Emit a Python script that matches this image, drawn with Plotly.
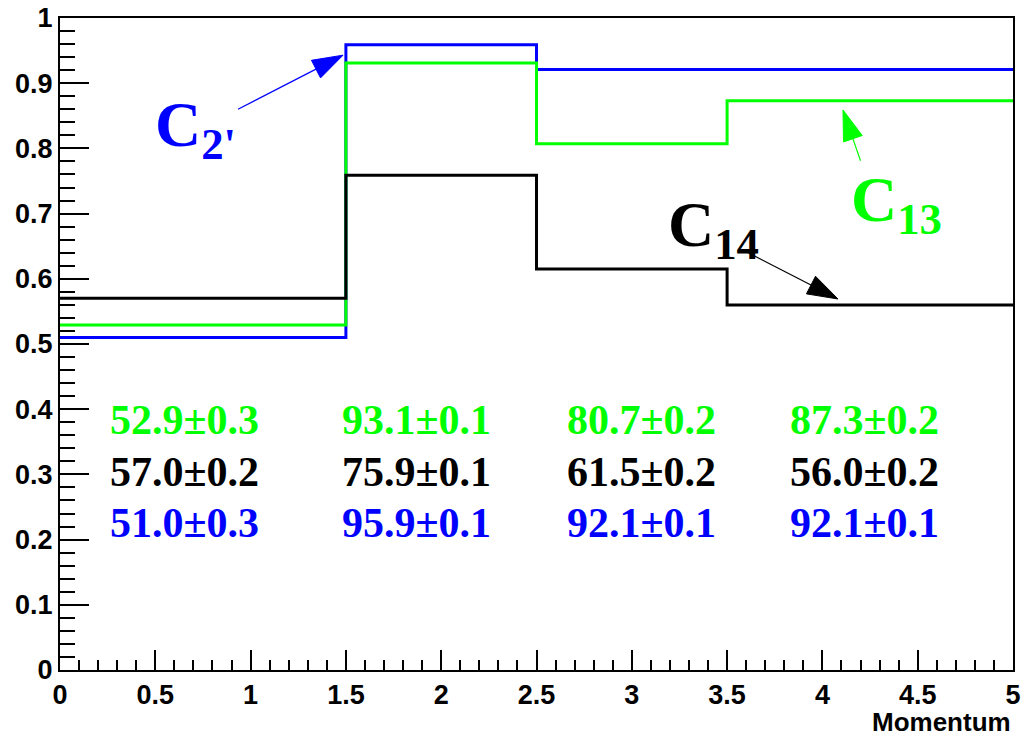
import plotly.graph_objects as go

# ---- data ----
bin_edges = [0.0, 1.5, 2.5, 3.5, 5.0]
c2_vals = [0.510, 0.959, 0.921, 0.921]   # blue
c13_vals = [0.529, 0.931, 0.807, 0.873]  # green
c14_vals = [0.570, 0.759, 0.615, 0.560]  # black

row_green = ["52.9±0.3", "93.1±0.1", "80.7±0.2", "87.3±0.2"]
row_black = ["57.0±0.2", "75.9±0.1", "61.5±0.2", "56.0±0.2"]
row_blue = ["51.0±0.3", "95.9±0.1", "92.1±0.1", "92.1±0.1"]
text_x = [0.25, 1.47, 2.65, 3.82]
text_y = {"green": 0.383, "black": 0.304, "blue": 0.225}

BLUE = "#0000ff"
GREEN = "#00ff00"
BLACK = "#000000"

fig = go.Figure()

def step(vals):
    return bin_edges, list(vals) + [vals[-1]]

for vals, col in [(c2_vals, BLUE), (c13_vals, GREEN), (c14_vals, BLACK)]:
    xs, ys = step(vals)
    fig.add_trace(go.Scatter(x=xs, y=ys, mode="lines", line=dict(shape="hv", color=col, width=3),
                             showlegend=False, hoverinfo="skip"))

serif = "Liberation Serif"
for row, col, key in [(row_green, GREEN, "green"), (row_black, BLACK, "black"), (row_blue, BLUE, "blue")]:
    for xv, t in zip(text_x, row):
        fig.add_annotation(x=xv, y=text_y[key], text=t, showarrow=False, xanchor="left", yanchor="middle",
                           font=dict(family=serif, size=42, color=col, weight="bold"))

# labels
labels = [
    ("C<sub>2'</sub>", 0.49, 0.83, BLUE),
    ("C<sub>13</sub>", 4.14, 0.715, GREEN),
    ("C<sub>14</sub>", 3.18, 0.677, BLACK),
]
for t, xv, yv, col in labels:
    fig.add_annotation(x=xv, y=yv, text=t, showarrow=False, xanchor="left", yanchor="middle",
                       font=dict(family=serif, size=64, color=col, weight="bold"))

# arrows (tail -> head)
arrows = [
    ((0.934, 0.860), (1.485, 0.943), BLUE),
    ((4.20, 0.781), (4.108, 0.859), GREEN),
    ((3.604, 0.641), (4.082, 0.569), BLACK),
]
for (tx, ty), (hx, hy), col in arrows:
    fig.add_trace(go.Scatter(x=[tx, hx], y=[ty, hy], mode="lines+markers",
                             line=dict(color=col, width=1.2),
                             marker=dict(symbol="arrow", size=[0, 32], color=col, opacity=1,
                                         angleref="previous", line=dict(width=1, color=col)),
                             showlegend=False, hoverinfo="skip"))

fig.add_annotation(x=1.0, y=0, xref="paper", yref="paper", yshift=-52, text="Momentum",
                   showarrow=False, xanchor="right", yanchor="middle",
                   font=dict(family="Liberation Sans", size=26, color="black", weight="bold"))

tickfont = dict(family="Liberation Sans", size=27, color="black", weight="bold")
fig.update_xaxes(range=[0, 5], dtick=0.5, tick0=0, ticks="inside", ticklen=20, tickwidth=1.5,
                 tickcolor="black", showline=True, linecolor="black", linewidth=2, mirror=True,
                 showgrid=False, zeroline=False, automargin=False,
                 minor=dict(dtick=0.1, ticks="inside", ticklen=10, tickwidth=1.5, tickcolor="black"),
                 tickfont=tickfont)
fig.update_yaxes(range=[0, 1], dtick=0.1, tick0=0, ticks="inside", ticklen=29, tickwidth=1.5,
                 tickcolor="black", showline=True, linecolor="black", linewidth=2, mirror=True,
                 showgrid=False, zeroline=False, automargin=False,
                 minor=dict(dtick=0.02, ticks="inside", ticklen=15, tickwidth=1.5, tickcolor="black"),
                 tickfont=tickfont)

fig.update_layout(width=1021, height=737, margin=dict(l=60, r=8, t=18, b=67),
                  paper_bgcolor="white", plot_bgcolor="white")

fig.write_html("out.html")
